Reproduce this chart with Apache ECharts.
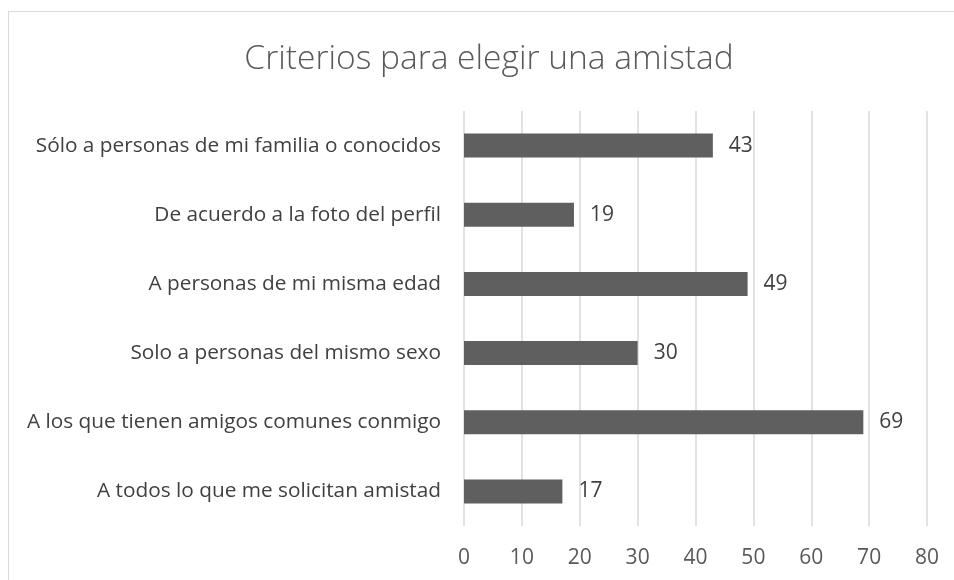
<!DOCTYPE html>
<html><head><meta charset="utf-8">
<script src="https://cdn.jsdelivr.net/npm/echarts@6/dist/echarts.min.js"></script>
<style>html,body{margin:0;padding:0;background:#fff;}#c{width:954px;height:580px;}
#frame{position:absolute;left:8px;top:11px;width:960px;height:600px;border:1.5px solid #d9d9d9;pointer-events:none;}</style>
</head><body>
<div id="c"></div><div id="frame"></div>
<script>
const titleText = 'Criterios para elegir una amistad';
const categories = [
  'A todos lo que me solicitan amistad',
  'A los que tienen amigos comunes conmigo',
  'Solo a personas del mismo sexo',
  'A personas de mi misma edad',
  'De acuerdo a la foto del perfil',
  'Sólo a personas de mi familia o conocidos'
];
const values = [17, 69, 30, 49, 19, 43];
const xTicks = [0, 10, 20, 30, 40, 50, 60, 70, 80];

const chart = echarts.init(document.getElementById('c'));
chart.setOption({
  animation: false,
  title: {
    text: titleText, left: 484, textAlign: 'center', top: 37,
    textStyle: {fontFamily: 'Open Sans', fontSize: 33.5, fontWeight: 300, color: '#595959'}
  },
  grid: {left: 464, right: 27, top: 111, bottom: 54},
  xAxis: {
    type: 'value', min: xTicks[0], max: xTicks[xTicks.length-1], interval: 10,
    axisLine: {show: false}, axisTick: {show: false},
    splitLine: {lineStyle: {color: '#d9d9d9', width: 1.5}},
    axisLabel: {fontFamily: 'Open Sans', fontSize: 21, color: '#595959', margin: 22}
  },
  yAxis: {
    type: 'category', data: categories,
    axisLine: {show: false}, axisTick: {show: false},
    axisLabel: {fontFamily: 'Open Sans', fontSize: 20.8, color: '#404040', margin: 23}
  },
  series: [{
    type: 'bar', data: values, barWidth: 24,
    itemStyle: {color: '#5f5f5f'},
    label: {show: true, position: 'right', distance: 16, fontFamily: 'Open Sans', fontSize: 21, color: '#404040'}
  }]
});
</script>
</body></html>
